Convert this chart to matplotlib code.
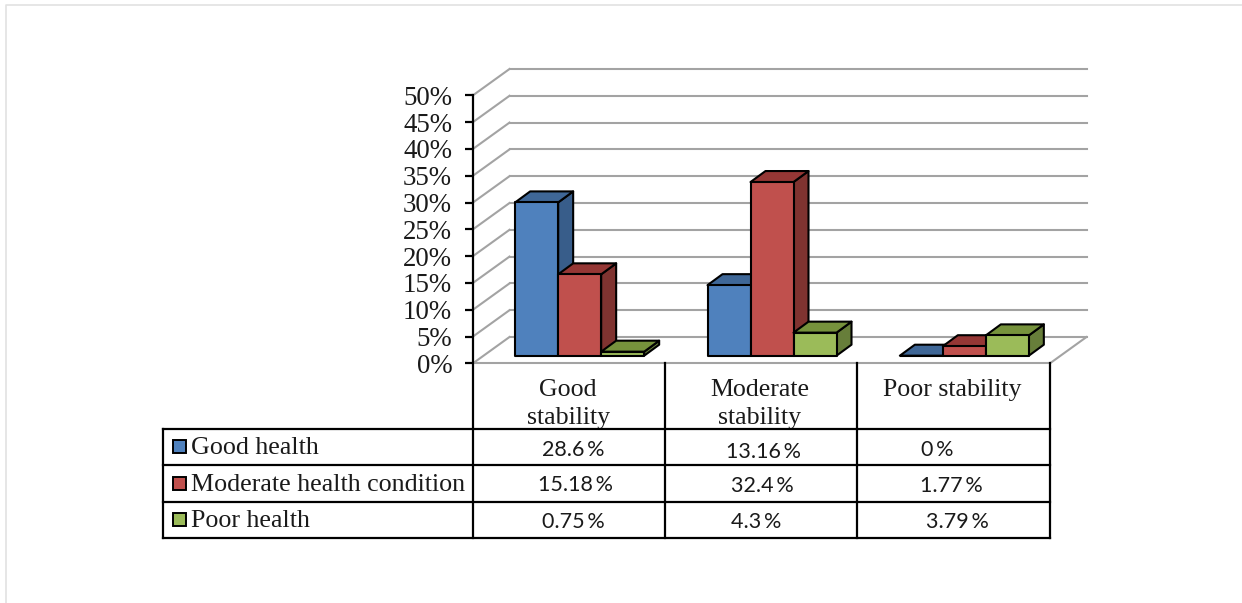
import matplotlib
matplotlib.use("Agg")
import matplotlib.pyplot as plt
from matplotlib.patches import Polygon, Rectangle

categories = ["Good\nstability", "Moderate\nstability", "Poor stability"]
series_names = ["Good health", "Moderate health condition", "Poor health"]
good_health = [28.6, 13.16, 0]
moderate_health = [15.18, 32.4, 1.77]
poor_health = [0.75, 4.3, 3.79]
y_ticks = [0, 5, 10, 15, 20, 25, 30, 35, 40, 45, 50]
y_tick_labels = ["0%", "5%", "10%", "15%", "20%", "25%", "30%", "35%", "40%", "45%", "50%"]
table_good = ["28.6\u2009%", "13.16\u2009%", "0\u2009%"]
table_moderate = ["15.18\u2009%", "32.4\u2009%", "1.77\u2009%"]
table_poor = ["0.75\u2009%", "4.3\u2009%", "3.79\u2009%"]

front_colors = ["#4F81BD", "#C0504D", "#9BBB59"]
side_colors = ["#385D8A", "#7F3330", "#677E3A"]
top_colors = ["#3F6797", "#953735", "#76923C"]
GRID = "#A3A3A3"
SERIF = "Liberation Serif"
SANS = "Lato"

W, H = 1242, 603
fig = plt.figure(figsize=(W / 100, H / 100), dpi=100, facecolor="white")

page = fig.add_axes([0, 0, 1, 1], zorder=3)
page.set_xlim(0, W)
page.set_ylim(H, 0)
page.axis("off")
page.patch.set_alpha(0)

X0, X1, Y0, Y50 = 473, 1050, 363.3, 95.3
ax = fig.add_axes([X0 / W, (H - Y0) / H, (X1 - X0) / W, (Y0 - Y50) / H], zorder=2)
ax.set_xlim(0, 3)
ax.set_ylim(0, 50)
ax.patch.set_alpha(0)
for s in ax.spines.values():
    s.set_visible(False)

px_x = 3 / (X1 - X0)
px_y = 50 / (Y0 - Y50)
DX, DY = 36.5 * px_x, 26.3 * px_y
BDX, BDY = 15 * px_x, 11 * px_y
OFFX, OFFY = 10.5 * px_x, 7.6 * px_y
BAR_W = 43 * px_x

for v in y_ticks:
    ax.plot([0, DX], [v, v + DY], color=GRID, lw=1.5, clip_on=False, zorder=1)
    ax.plot([DX, 3 + DX], [v + DY, v + DY], color=GRID, lw=1.5, clip_on=False, zorder=1)
ax.plot([0, 3], [0, 0], color=GRID, lw=1.5, clip_on=False, zorder=1)
ax.plot([3, 3 + DX], [0, DY], color=GRID, lw=1.5, clip_on=False, zorder=1)

all_series = [good_health, moderate_health, poor_health]
z = 2
for c in range(len(categories)):
    for i, vals in enumerate(all_series):
        v = vals[c]
        left = c + 0.5 + OFFX + (i - 1.5) * BAR_W
        right = left + BAR_W
        base = OFFY
        top = base + v
        edge = dict(edgecolor="black", linewidth=1.5, joinstyle="round", clip_on=False)
        ax.add_patch(Polygon([(right, base), (right + BDX, base + BDY), (right + BDX, top + BDY), (right, top)],
                             facecolor=side_colors[i], zorder=z, **edge))
        ax.add_patch(Polygon([(left, top), (left + BDX, top + BDY), (right + BDX, top + BDY), (right, top)],
                             facecolor=top_colors[i], zorder=z, **edge))
        ax.bar(left, v, width=BAR_W, bottom=base, align="edge", color=front_colors[i], zorder=z, **edge)
        z += 1

ax.set_yticks(y_ticks)
ax.set_yticklabels(y_tick_labels, fontfamily=SERIF, fontsize=19.4, color="#1a1a1a")
ax.tick_params(axis="y", length=5.5, width=1.6, color="black", pad=9.5)
ax.set_xticks([0.495, 1.49, 2.49])
ax.set_xticklabels(categories, fontfamily=SERIF, fontsize=18.6, color="#1a1a1a", linespacing=1.38)
ax.tick_params(axis="x", length=0, pad=11)

LW = 1.6
for x in (473, 665, 857, 1050):
    page.plot([x, x], [Y50 if x == 473 else 363, 538], color="black", lw=LW, solid_capstyle="projecting")
page.plot([163, 163], [429, 538], color="black", lw=LW, solid_capstyle="projecting")
for y in (429, 465, 502, 538):
    page.plot([163, 1050], [y, y], color="black", lw=LW, solid_capstyle="projecting")

key_y = [446.5, 483, 519.5]
text_y = [447.5, 485, 521]
for i, name in enumerate(series_names):
    page.add_patch(Rectangle((172.5, key_y[i] - 6.5), 13, 13, facecolor=front_colors[i], edgecolor="black", lw=1.4))
    page.text(191, text_y[i], name, fontfamily=SERIF, fontsize=18.7, color="#1a1a1a", va="center", ha="left")

cell_x = [[573, 763, 937], [575, 762, 951], [573, 756, 957]]
cell_y = [[450, 452, 450], [485, 486, 486], [522, 522, 522]]
for r, row in enumerate([table_good, table_moderate, table_poor]):
    for c, label in enumerate(row):
        page.text(cell_x[r][c], cell_y[r][c], label, fontfamily=SANS, fontsize=15.5, color="#1a1a1a", va="center", ha="center")

page.plot([6, 6, W], [H, 4.5, 4.5], color="#E2E2E2", lw=1.2)
page.plot([W - 0.5, W - 0.5], [4, H], color="#F4F4F4", lw=0.8)

fig.savefig("out.png", dpi=100)
